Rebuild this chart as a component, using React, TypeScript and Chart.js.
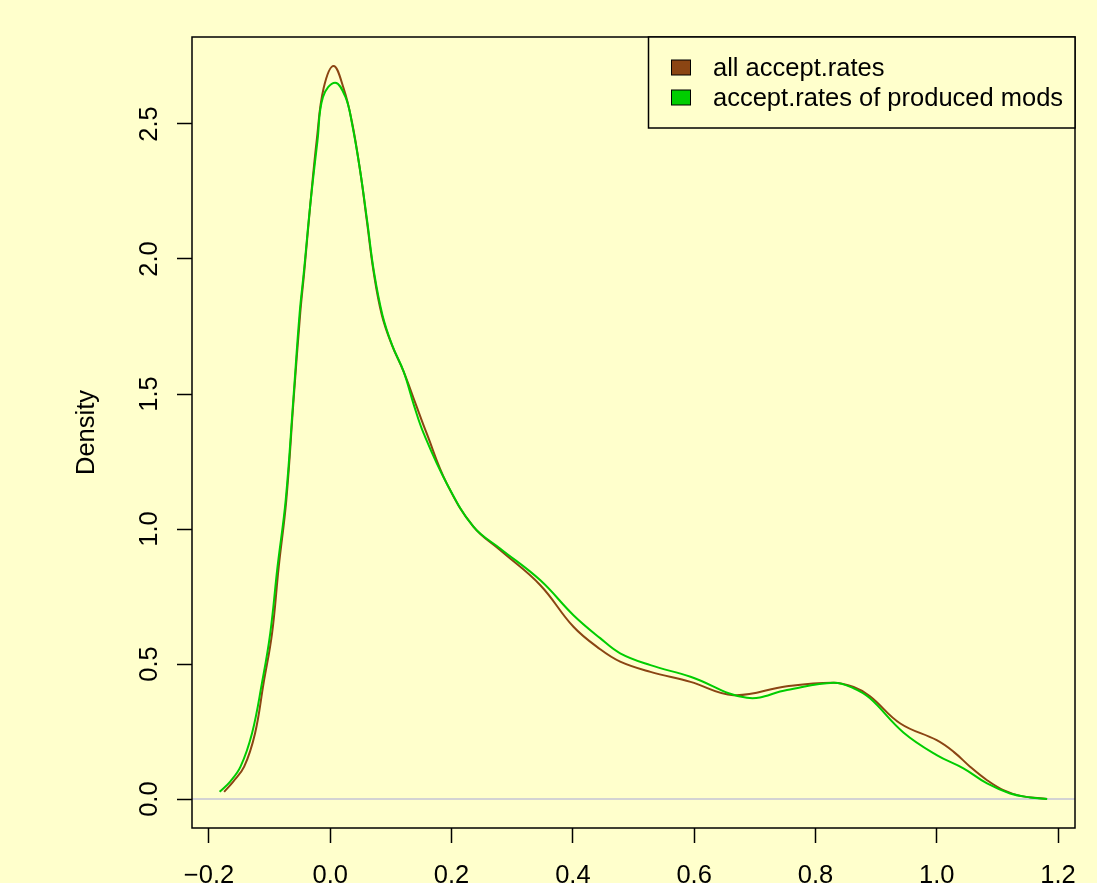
import React, { useEffect, useRef } from "react";
import { Chart, registerables } from "chart.js";

Chart.register(...registerables);

// Density curve of all accept.rates
const allX = [-0.175, -0.16, -0.142, -0.124, -0.11, -0.096, -0.085, -0.0725, -0.0605, -0.0495, -0.0429, -0.033, -0.022, -0.011, 0.0055, 0.022, 0.0357, 0.0495, 0.0605, 0.0714, 0.085, 0.1017, 0.121, 0.14, 0.159, 0.192, 0.236, 0.28, 0.346, 0.401, 0.445, 0.478, 0.528, 0.594, 0.665, 0.753, 0.83, 0.863, 0.89, 0.94, 1.0, 1.028, 1.055, 1.083, 1.11, 1.138, 1.182];
const allY = [0.027, 0.065, 0.12, 0.244, 0.429, 0.614, 0.86, 1.107, 1.478, 1.8, 1.953, 2.2, 2.447, 2.632, 2.715, 2.632, 2.508, 2.323, 2.138, 1.953, 1.793, 1.681, 1.583, 1.468, 1.354, 1.169, 1.009, 0.922, 0.793, 0.638, 0.555, 0.509, 0.471, 0.434, 0.385, 0.418, 0.431, 0.415, 0.381, 0.28, 0.218, 0.175, 0.12, 0.07, 0.033, 0.012, 0.0];

// Density curve of accept.rates of produced mods
const prodX = [-0.1825, -0.165, -0.148, -0.129, -0.1127, -0.099, -0.087, -0.0735, -0.061, -0.0505, -0.0435, -0.033, -0.021, -0.012, 0.008, 0.025, 0.036, 0.0495, 0.061, 0.072, 0.086, 0.102, 0.121, 0.138, 0.154, 0.192, 0.236, 0.28, 0.346, 0.401, 0.445, 0.478, 0.528, 0.594, 0.687, 0.753, 0.83, 0.863, 0.89, 0.945, 1.0, 1.044, 1.083, 1.121, 1.154, 1.182];
const prodY = [0.027, 0.065, 0.12, 0.244, 0.429, 0.614, 0.86, 1.107, 1.478, 1.8, 1.953, 2.2, 2.44, 2.6, 2.653, 2.6, 2.5, 2.323, 2.138, 1.953, 1.793, 1.681, 1.583, 1.458, 1.354, 1.169, 1.009, 0.928, 0.811, 0.681, 0.596, 0.54, 0.496, 0.453, 0.375, 0.404, 0.431, 0.41, 0.373, 0.247, 0.163, 0.114, 0.058, 0.021, 0.006, 0.0];

const xTicks = [-0.2, 0, 0.2, 0.4, 0.6, 0.8, 1.0, 1.2];
const xTickLabels = ["\u22120.2", "0.0", "0.2", "0.4", "0.6", "0.8", "1.0", "1.2"];
const yTicks = [0, 0.5, 1.0, 1.5, 2.0, 2.5];
const yTickLabels = ["0.0", "0.5", "1.0", "1.5", "2.0", "2.5"];
const yTitle = "Density";
const legendLabels = ["all accept.rates", "accept.rates of produced mods"];

const BG = "#FFFFCC";
const BROWN = "#8B4513";
const GREEN = "#00CD00";
const FONT = '25.5px "Liberation Sans", Arial, sans-serif';

const toPoints = (xs: number[], ys: number[]) => xs.map((x, i) => ({ x, y: ys[i] }));

const decorPlugin = {
  id: "decor",
  beforeDatasetsDraw(chart: any) {
    const { ctx, chartArea, scales } = chart;
    const y0 = scales.y.getPixelForValue(0);
    ctx.save();
    ctx.strokeStyle = "#D3D3D3";
    ctx.lineWidth = 2;
    ctx.beginPath();
    ctx.moveTo(chartArea.left, y0);
    ctx.lineTo(chartArea.right, y0);
    ctx.stroke();
    ctx.restore();
  },
  afterDraw(chart: any) {
    const { ctx, chartArea, scales } = chart;
    const { left, right, top, bottom } = chartArea;
    ctx.save();
    ctx.strokeStyle = "#000";
    ctx.lineWidth = 1.5;
    ctx.strokeRect(left, top, right - left, bottom - top);

    ctx.fillStyle = "#000";
    ctx.font = FONT;
    ctx.textAlign = "center";
    ctx.textBaseline = "alphabetic";
    xTicks.forEach((v, i) => {
      ctx.fillText(xTickLabels[i], scales.x.getPixelForValue(v), 883);
    });
    yTicks.forEach((v, i) => {
      ctx.save();
      ctx.translate(157, scales.y.getPixelForValue(v));
      ctx.rotate(-Math.PI / 2);
      ctx.textAlign = "center";
      ctx.textBaseline = "alphabetic";
      ctx.fillText(yTickLabels[i], 0, 0);
      ctx.restore();
    });
    ctx.save();
    ctx.translate(94, (top + bottom) / 2);
    ctx.rotate(-Math.PI / 2);
    ctx.textAlign = "center";
    ctx.textBaseline = "alphabetic";
    ctx.fillText(yTitle, 0, 0);
    ctx.restore();

    // legend
    const lx = 648.5;
    const ly = top;
    const lw = right - lx;
    const lh = 128 - top;
    ctx.fillStyle = BG;
    ctx.fillRect(lx, ly, lw, lh);
    ctx.strokeStyle = "#000";
    ctx.lineWidth = 1.5;
    ctx.strokeRect(lx, ly, lw, lh);
    const rows = [67.5, 97.5];
    const cols = [BROWN, GREEN];
    rows.forEach((cy, i) => {
      ctx.fillStyle = cols[i];
      ctx.fillRect(671, cy - 7.5, 19, 15);
      ctx.lineWidth = 1;
      ctx.strokeStyle = "#000";
      ctx.strokeRect(671.5, cy - 7.5, 19, 15);
      ctx.fillStyle = "#000";
      ctx.textAlign = "left";
      ctx.textBaseline = "alphabetic";
      ctx.fillText(legendLabels[i], 713, cy + 8.5);
    });
    ctx.restore();
  },
};

export default function App() {
  const ref = useRef<HTMLCanvasElement>(null);

  useEffect(() => {
    document.body.style.margin = "0";
    document.body.style.background = BG;
    const canvas = ref.current;
    if (!canvas) return;
    const chart = new Chart(canvas, {
      type: "scatter",
      data: {
        datasets: [
          {
            label: legendLabels[1],
            data: toPoints(prodX, prodY),
            showLine: true,
            borderColor: GREEN,
            backgroundColor: GREEN,
            borderWidth: 2,
            pointRadius: 0,
            tension: 0.4,
            order: 0,
          },
          {
            label: legendLabels[0],
            data: toPoints(allX, allY),
            showLine: true,
            borderColor: BROWN,
            backgroundColor: BROWN,
            borderWidth: 2,
            pointRadius: 0,
            tension: 0.4,
            order: 1,
          },
        ],
      },
      options: {
        responsive: false,
        animation: false,
        devicePixelRatio: 1,
        layout: { padding: { top: 37, right: 22, left: 0, bottom: 0 } },
        plugins: { legend: { display: false }, tooltip: { enabled: false } },
        scales: {
          x: {
            type: "linear",
            min: -0.228,
            max: 1.228,
            afterBuildTicks: (s: any) => {
              s.ticks = xTicks.map((v) => ({ value: v }));
            },
            afterFit: (s: any) => {
              s.height = 55;
            },
            border: { display: false },
            grid: {
              display: true,
              drawOnChartArea: false,
              drawTicks: true,
              tickLength: 15,
              tickColor: "#000",
              tickWidth: 1.5,
            },
            ticks: { display: false },
          },
          y: {
            type: "linear",
            min: -0.107,
            max: 2.822,
            afterBuildTicks: (s: any) => {
              s.ticks = yTicks.map((v) => ({ value: v }));
            },
            afterFit: (s: any) => {
              s.width = 192;
            },
            border: { display: false },
            grid: {
              display: true,
              drawOnChartArea: false,
              drawTicks: true,
              tickLength: 15,
              tickColor: "#000",
              tickWidth: 1.5,
            },
            ticks: { display: false },
          },
        },
      },
      plugins: [decorPlugin],
    } as any);
    return () => chart.destroy();
  }, []);

  return (
    <div style={{ position: "fixed", left: 0, top: 0, width: 1097, height: 883, background: BG }}>
      <canvas ref={ref} width={1097} height={883} style={{ display: "block", width: 1097, height: 883 }} />
    </div>
  );
}
